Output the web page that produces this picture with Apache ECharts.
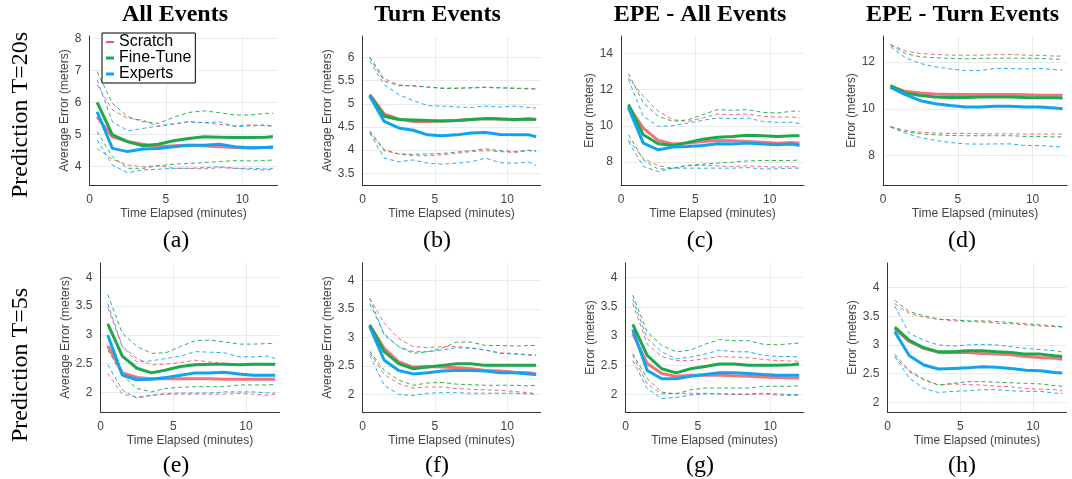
<!DOCTYPE html>
<html>
<head>
<meta charset="utf-8">
<script src="https://cdn.jsdelivr.net/npm/echarts@6.0.0/dist/echarts.min.js"></script>
<style>
html,body{margin:0;padding:0;background:#fff;}
#chart{width:1072px;height:479px;}
</style>
</head>
<body>
<div id="chart"></div>
<script>
// x positions (minutes)
var elapsed = [0.5,1.5,2.5,3.5,4.5,5.5,6.5,7.5,8.5,9.5,10.5,11.5,12];
var xTicks = [0,5,10];

// (a) T=20s, all events
var aScratch   = [5.55,4.93,4.78,4.70,4.62,4.65,4.67,4.65,4.62,4.60,4.58,4.60,4.62];
var aScratchHi = [6.55,5.77,5.51,5.45,5.25,5.33,5.40,5.37,5.32,5.27,5.30,5.28,5.27];
var aScratchLo = [4.57,4.23,4.05,4.00,4.03,3.95,3.95,3.93,3.97,3.95,3.92,3.90,3.92];
var aFine      = [6.00,4.99,4.78,4.65,4.70,4.81,4.88,4.93,4.92,4.91,4.91,4.92,4.93];
var aFineHi    = [6.96,5.97,5.56,5.40,5.35,5.54,5.69,5.74,5.68,5.61,5.61,5.66,5.66];
var aFineLo    = [5.09,4.31,3.95,3.95,4.03,4.08,4.10,4.13,4.16,4.19,4.18,4.19,4.21];
var aExp       = [5.71,4.57,4.47,4.55,4.57,4.62,4.67,4.67,4.70,4.62,4.59,4.60,4.60];
var aExpHi     = [6.70,5.40,5.12,5.19,5.27,5.33,5.40,5.37,5.40,5.25,5.27,5.30,5.25];
var aExpLo     = [4.83,4.05,3.81,3.90,3.92,3.95,3.95,3.97,4.00,3.95,3.95,3.93,3.95];
var aTicks = [4,5,6,7,8];

// (b) T=20s, turn events
var bScratch   = [5.20,4.78,4.67,4.62,4.62,4.63,4.64,4.66,4.68,4.67,4.65,4.67,4.66];
var bScratchHi = [6.01,5.54,5.41,5.38,5.36,5.34,5.34,5.35,5.36,5.35,5.34,5.33,5.32];
var bScratchLo = [4.38,3.99,3.92,3.88,3.88,3.90,3.93,3.97,3.99,3.97,3.95,3.99,3.97];
var bFine      = [5.18,4.73,4.66,4.65,4.64,4.63,4.64,4.66,4.68,4.67,4.66,4.67,4.66];
var bFineHi    = [5.99,5.49,5.39,5.39,5.36,5.33,5.33,5.34,5.35,5.34,5.33,5.32,5.32];
var bFineLo    = [4.42,4.01,3.92,3.91,3.92,3.93,3.96,3.99,4.03,3.99,3.97,4.00,3.99];
var bExp       = [5.16,4.62,4.48,4.43,4.33,4.31,4.33,4.37,4.38,4.34,4.33,4.33,4.29];
var bExpHi     = [5.92,5.41,5.20,5.07,4.96,4.95,4.93,4.92,4.95,4.93,4.95,4.92,4.91];
var bExpLo     = [4.37,3.83,3.75,3.79,3.72,3.70,3.72,3.75,3.83,3.73,3.72,3.74,3.67];
var bTicks = [3.5,4,4.5,5,5.5,6];

// (c) T=20s, EPE all events
var cScratch   = [11.08,9.88,9.20,9.00,9.05,9.14,9.20,9.18,9.14,9.10,9.05,9.09,9.05];
var cScratchHi = [12.65,11.64,10.81,10.34,10.25,10.44,10.66,10.62,10.66,10.53,10.49,10.49,10.44];
var cScratchLo = [9.24,8.22,7.80,7.67,7.80,7.82,7.80,7.76,7.80,7.76,7.72,7.76,7.72];
var cFine      = [11.18,9.51,9.02,8.92,9.09,9.27,9.38,9.42,9.48,9.46,9.42,9.46,9.46];
var cFineHi    = [12.89,11.27,10.53,10.25,10.34,10.62,10.90,10.86,10.90,10.75,10.71,10.81,10.81];
var cFineLo    = [9.51,8.13,7.61,7.67,7.82,7.89,7.95,8.00,8.07,8.09,8.09,8.09,8.13];
var cExp       = [10.99,9.05,8.68,8.83,8.87,8.92,9.02,9.00,9.05,9.00,8.96,9.00,8.92];
var cExpHi     = [12.56,10.53,9.98,10.01,10.16,10.31,10.44,10.40,10.44,10.25,10.20,10.20,10.12];
var cExpLo     = [9.14,7.76,7.48,7.67,7.67,7.67,7.67,7.67,7.70,7.63,7.63,7.67,7.67];
var cTicks = [8,10,12,14];

// (d) T=20s, EPE turn events
var dScratch   = [10.97,10.75,10.68,10.64,10.62,10.61,10.61,10.61,10.61,10.60,10.58,10.58,10.58];
var dScratchHi = [12.76,12.47,12.37,12.33,12.30,12.30,12.30,12.32,12.33,12.30,12.29,12.26,12.26];
var dScratchLo = [9.22,9.08,9.00,8.96,8.95,8.95,8.93,8.93,8.93,8.92,8.92,8.92,8.92];
var dFine      = [11.00,10.68,10.57,10.51,10.49,10.49,10.51,10.51,10.51,10.49,10.48,10.48,10.47];
var dFineHi    = [12.73,12.37,12.23,12.19,12.16,12.14,12.16,12.17,12.17,12.17,12.16,12.13,12.11];
var dFineLo    = [9.25,9.03,8.93,8.89,8.86,8.85,8.85,8.85,8.85,8.82,8.82,8.80,8.80];
var dExp       = [10.92,10.61,10.35,10.22,10.14,10.08,10.08,10.11,10.11,10.08,10.08,10.04,10.01];
var dExpHi     = [12.66,12.19,11.94,11.80,11.71,11.64,11.64,11.73,11.73,11.71,11.73,11.68,11.66];
var dExpLo     = [9.22,8.96,8.77,8.65,8.56,8.50,8.49,8.50,8.50,8.43,8.43,8.39,8.36];
var dTicks = [8,10,12];

// (e) T=5s, all events
var eScratch   = [2.81,2.34,2.26,2.24,2.24,2.24,2.24,2.24,2.23,2.23,2.23,2.23,2.23];
var eScratchHi = [3.47,2.80,2.59,2.48,2.49,2.52,2.56,2.53,2.51,2.48,2.48,2.47,2.47];
var eScratchLo = [2.33,1.97,1.92,1.95,1.97,1.97,1.97,1.97,1.97,1.98,1.97,1.95,1.97];
var eFine      = [3.19,2.63,2.42,2.34,2.39,2.45,2.48,2.49,2.49,2.48,2.49,2.49,2.49];
var eFineHi    = [3.70,3.03,2.80,2.68,2.69,2.80,2.90,2.91,2.88,2.84,2.84,2.85,2.85];
var eFineLo    = [2.74,2.30,2.07,2.01,2.07,2.09,2.10,2.10,2.10,2.13,2.13,2.13,2.14];
var eExp       = [3.00,2.30,2.22,2.23,2.26,2.30,2.34,2.34,2.35,2.32,2.30,2.30,2.30];
var eExpHi     = [3.54,2.80,2.53,2.55,2.59,2.63,2.71,2.70,2.69,2.62,2.62,2.63,2.59];
var eExpLo     = [2.48,2.04,1.90,1.95,1.98,1.99,1.99,1.99,2.01,2.01,2.01,1.99,1.99];
var eTicks = [2,2.5,3,3.5,4];

// (f) T=5s, turn events
var fScratch   = [3.22,2.81,2.57,2.48,2.49,2.48,2.47,2.45,2.42,2.41,2.39,2.38,2.36];
var fScratchHi = [3.69,3.25,2.98,2.84,2.82,2.84,2.84,2.82,2.78,2.73,2.72,2.70,2.69];
var fScratchLo = [2.73,2.35,2.19,2.11,2.13,2.13,2.10,2.09,2.08,2.07,2.05,2.03,2.01];
var fFine      = [3.22,2.75,2.54,2.45,2.48,2.51,2.54,2.54,2.51,2.51,2.51,2.51,2.51];
var fFineHi    = [3.60,3.06,2.84,2.72,2.75,2.81,2.92,2.92,2.86,2.86,2.85,2.86,2.86];
var fFineLo    = [2.76,2.42,2.25,2.16,2.20,2.21,2.18,2.17,2.16,2.16,2.16,2.15,2.16];
var fExp       = [3.19,2.60,2.42,2.36,2.38,2.41,2.42,2.42,2.41,2.38,2.38,2.36,2.35];
var fExpHi     = [3.69,3.04,2.84,2.75,2.75,2.78,2.82,2.81,2.78,2.72,2.71,2.69,2.69];
var fExpLo     = [2.69,2.16,2.00,1.98,2.02,2.03,2.03,2.02,2.02,2.02,2.02,2.01,2.00];
var fTicks = [2,2.5,3,3.5,4];

// (g) T=5s, EPE all events
var gScratch   = [3.04,2.53,2.36,2.31,2.33,2.33,2.33,2.32,2.31,2.30,2.29,2.28,2.28];
var gScratchHi = [3.56,2.86,2.65,2.58,2.58,2.61,2.65,2.64,2.63,2.60,2.58,2.57,2.57];
var gScratchLo = [2.67,2.18,2.01,2.02,2.02,2.02,2.01,2.00,2.00,2.01,1.99,1.98,1.99];
var gFine      = [3.20,2.67,2.44,2.37,2.44,2.48,2.52,2.52,2.50,2.50,2.50,2.51,2.52];
var gFineHi    = [3.70,3.07,2.84,2.73,2.76,2.86,2.94,2.92,2.92,2.86,2.85,2.87,2.88];
var gFineLo    = [2.70,2.27,2.04,2.01,2.08,2.11,2.11,2.11,2.11,2.14,2.14,2.14,2.15];
var gExp       = [3.11,2.41,2.27,2.27,2.31,2.34,2.37,2.37,2.36,2.34,2.33,2.33,2.33];
var gExpHi     = [3.63,2.96,2.73,2.61,2.64,2.69,2.76,2.73,2.73,2.67,2.65,2.65,2.64];
var gExpLo     = [2.58,2.10,1.93,1.95,1.99,2.01,2.01,2.01,2.01,2.02,2.01,2.00,2.00];
var gTicks = [2,2.5,3,3.5,4];

// (h) T=5s, EPE turn events
var hScratch   = [3.28,3.06,2.94,2.87,2.87,2.87,2.85,2.84,2.83,2.80,2.78,2.77,2.75];
var hScratchHi = [3.72,3.55,3.48,3.45,3.42,3.41,3.40,3.38,3.37,3.35,3.33,3.32,3.31];
var hScratchLo = [2.80,2.53,2.39,2.30,2.32,2.31,2.30,2.28,2.27,2.24,2.23,2.22,2.20];
var hFine      = [3.31,3.08,2.95,2.88,2.88,2.90,2.90,2.88,2.87,2.84,2.84,2.81,2.80];
var hFineHi    = [3.78,3.58,3.51,3.45,3.44,3.42,3.42,3.41,3.39,3.37,3.35,3.33,3.32];
var hFineLo    = [2.84,2.55,2.40,2.30,2.33,2.36,2.36,2.35,2.34,2.33,2.32,2.29,2.28];
var hExp       = [3.23,2.81,2.65,2.58,2.59,2.60,2.62,2.61,2.59,2.56,2.55,2.52,2.51];
var hExpHi     = [3.68,3.20,3.08,3.00,2.98,3.00,3.01,3.00,2.97,2.94,2.92,2.90,2.88];
var hExpLo     = [2.80,2.42,2.24,2.17,2.19,2.20,2.22,2.22,2.20,2.19,2.19,2.16,2.15];
var hTicks = [2,2.5,3,3.5,4];

var colTitles = ['All Events','Turn Events','EPE - All Events','EPE - Turn Events'];
var rowTitles = ['Prediction T=20s','Prediction T=5s'];
var subLabels = ['(a)','(b)','(c)','(d)','(e)','(f)','(g)','(h)'];
var methods = ['Scratch','Fine-Tune','Experts'];
var colors = ['#f05a66','#1ca84b','#10a3f0'];

// layout of the 8 panels
var panels = [
    {left:89.5, top:36, width:188, min:3.43, max:8.07, ticks:aTicks, yname:'Average Error (meters)', gap:12,
     d:[[aScratch,aScratchLo,aScratchHi],[aFine,aFineLo,aFineHi],[aExp,aExpLo,aExpHi]]},
    {left:362.5, top:36, width:178, min:3.25, max:6.46, ticks:bTicks, yname:'Average Error (meters)', gap:24,
     d:[[bScratch,bScratchLo,bScratchHi],[bFine,bFineLo,bFineHi],[bExp,bExpLo,bExpHi]]},
    {left:621, top:36, width:183, min:6.74, max:14.96, ticks:cTicks, yname:'Error (meters)', gap:21,
     d:[[cScratch,cScratchLo,cScratchHi],[cFine,cFineLo,cFineHi],[cExp,cExpLo,cExpHi]]},
    {left:883, top:36, width:184, min:6.74, max:13.12, ticks:dTicks, yname:'Error (meters)', gap:21,
     d:[[dScratch,dScratchLo,dScratchHi],[dFine,dFineLo,dFineHi],[dExp,dExpLo,dExpHi]]},
    {left:100.5, top:263, width:179, min:1.66, max:4.25, ticks:eTicks, yname:'Average Error (meters)', gap:25,
     d:[[eScratch,eScratchLo,eScratchHi],[eFine,eFineLo,eFineHi],[eExp,eExpLo,eExpHi]]},
    {left:362.5, top:263, width:178, min:1.69, max:4.31, ticks:fTicks, yname:'Average Error (meters)', gap:25,
     d:[[fScratch,fScratchLo,fScratchHi],[fFine,fFineLo,fFineHi],[fExp,fExpLo,fExpHi]]},
    {left:625.5, top:263, width:178, min:1.70, max:4.25, ticks:gTicks, yname:'Error (meters)', gap:26,
     d:[[gScratch,gScratchLo,gScratchHi],[gFine,gFineLo,gFineHi],[gExp,gExpLo,gExpHi]]},
    {left:887.5, top:263, width:179, min:1.83, max:4.43, ticks:hTicks, yname:'Error (meters)', gap:27,
     d:[[hScratch,hScratchLo,hScratchHi],[hFine,hFineLo,hFineHi],[hExp,hExpLo,hExpHi]]}
];

function pairs(vals){
    var out = [];
    for(var i=0;i<vals.length;i++){
        out.push([elapsed[i], vals[i]]);
    }
    return out;
}

var sans = 'Liberation Sans, Arial, sans-serif';
var serif = '"Liberation Serif", "Times New Roman", serif';
var grids = [], xAxes = [], yAxes = [], series = [], graphics = [];

for(var p=0;p<panels.length;p++){
    var pn = panels[p];
    grids.push({left:pn.left, top:pn.top, width:pn.width, height:149});
    xAxes.push({
        type:'value', gridIndex:p, min:0, max:12.3,
        name:'Time Elapsed (minutes)', nameLocation:'middle', nameGap:23,
        nameTextStyle:{fontFamily:sans, fontSize:12, color:'#444'},
        axisLine:{show:true, onZero:false, lineStyle:{color:'#333', width:1}},
        axisTick:{show:false, customValues:xTicks},
        axisLabel:{customValues:xTicks, fontFamily:sans, fontSize:12, color:'#444', margin:9},
        splitLine:{show:true, lineStyle:{color:'#ebebeb', width:1}}
    });
    yAxes.push({
        type:'value', gridIndex:p, min:pn.min, max:pn.max,
        name:pn.yname, nameLocation:'middle', nameGap:pn.gap,
        nameTextStyle:{fontFamily:sans, fontSize:12, color:'#444'},
        axisLine:{show:true, onZero:false, lineStyle:{color:'#333', width:1}},
        axisTick:{show:false, customValues:pn.ticks},
        axisLabel:{customValues:pn.ticks, fontFamily:sans, fontSize:12, color:'#444', margin:8},
        splitLine:{show:true, lineStyle:{color:'#ebebeb', width:1}}
    });
    // dashed bounds first, thick means on top
    for(var m=0;m<3;m++){
        for(var b=1;b<3;b++){
            series.push({
                type:'line', name:methods[m]+' bound', xAxisIndex:p, yAxisIndex:p,
                data:pairs(pn.d[m][b]), symbol:'none', silent:true, z:2,
                lineStyle:{color:colors[m], width:1, type:[4,3], opacity:0.9}
            });
        }
    }
    for(var m=0;m<3;m++){
        series.push({
            type:'line', name:methods[m], xAxisIndex:p, yAxisIndex:p,
            data:pairs(pn.d[m][0]), symbol:'none', z:3,
            itemStyle:{color:colors[m]},
            lineStyle:{color:colors[m], width:3, opacity:m==0?0.85:1}
        });
    }
}

// column titles
var colCenters = [175, 437.5, 700, 962.5];
for(var c=0;c<4;c++){
    graphics.push({type:'text', x:colCenters[c], y:15,
        style:{text:colTitles[c], font:'bold 24px '+serif, fill:'#000',
            align:'center', verticalAlign:'middle', textAlign:'center', textVerticalAlign:'middle'}});
}
// sub labels
var subCenters = [176, 437, 700, 962, 176, 437, 700, 962];
for(var s=0;s<8;s++){
    graphics.push({type:'text', x:subCenters[s], y:s<4?241:466,
        style:{text:subLabels[s], font:'24px '+serif, fill:'#000',
            align:'center', verticalAlign:'middle', textAlign:'center', textVerticalAlign:'middle'}});
}
// row titles
var rowCenters = [115, 365];
for(var r=0;r<2;r++){
    graphics.push({type:'text', x:21, y:rowCenters[r], rotation:Math.PI/2,
        style:{text:rowTitles[r], font:'24px '+serif, fill:'#000',
            align:'center', verticalAlign:'middle', textAlign:'center', textVerticalAlign:'middle'}});
}

var myChart = echarts.init(document.getElementById('chart'));
myChart.setOption({
    animation:false,
    backgroundColor:'#fff',
    grid:grids,
    xAxis:xAxes,
    yAxis:yAxes,
    legend:{
        data:[
            {name:'Scratch', icon:'path://M0,0H8V2H0Z'},
            {name:'Fine-Tune', icon:'path://M0,0H8V3H0Z'},
            {name:'Experts', icon:'path://M0,0H8V3H0Z'}
        ],
        orient:'vertical', left:102, top:33,
        backgroundColor:'#fff', borderColor:'#000', borderWidth:1,
        padding:[1,4,1,4], itemGap:0, itemWidth:8, itemHeight:15,
        symbolKeepAspect:true,
        textStyle:{fontFamily:sans, fontSize:16, lineHeight:15, color:'#000'}
    },
    series:series,
    graphic:graphics
});
</script>
</body>
</html>
